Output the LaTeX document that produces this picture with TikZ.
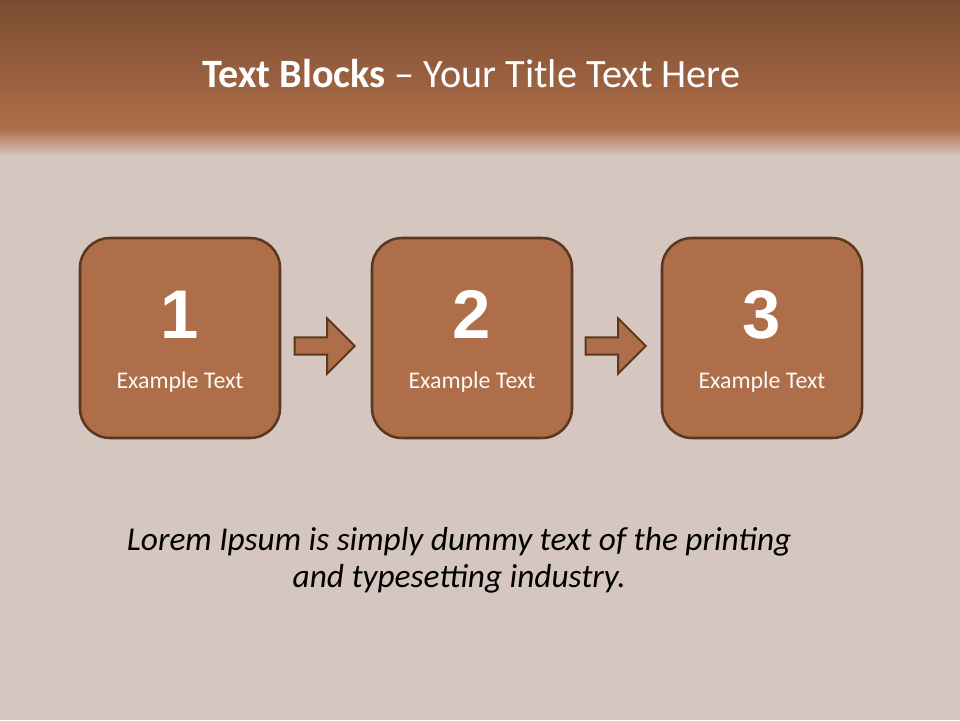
\documentclass[tikz,border=0pt]{standalone}
\usepackage{fontspec}
\setmainfont{Carlito}
\newfontfamily\numfont{Liberation Sans}
\usepackage{xcolor}
\usetikzlibrary{shapes.arrows,positioning,calc}

\definecolor{bandtop}{HTML}{7A4D32}
\definecolor{bandbot}{HTML}{AD6D48}
\definecolor{bgc}{HTML}{D6C6C0}
\definecolor{boxfill}{HTML}{AE6E49}
\definecolor{boxline}{HTML}{5A3820}

\begin{document}
\begin{tikzpicture}[
  blk/.style={draw=boxline, line width=1.8pt, fill=boxfill, rounded corners=0.75cm, minimum width=5cm, minimum height=5cm, inner sep=0pt},
  num/.style={font=\numfont\bfseries\fontsize{49}{53}\selectfont, text=white},
  lbl/.style={font=\fontsize{17}{20}\selectfont, text=white!95!boxfill, anchor=base},
  blockarr/.style={single arrow, draw=boxline, line width=1.4pt, fill=boxfill, minimum width=1.33cm, minimum height=1.5cm, single arrow head extend=0.475cm, inner sep=0.19cm},
]
\useasboundingbox (0,0) rectangle (24,-18);
% background and title band
\fill[bgc] (0,0) rectangle (24,-18);
\fill[top color=bandtop, bottom color=bandbot] (0,0) rectangle (24,-3.2);
\fill[top color=bandbot, bottom color=bgc] (0,-3.2) rectangle (24,-3.9);
\node[font=\fontsize{28.6}{34}\selectfont, text=white, anchor=base] (title) at (11.78,-2.175) {\textbf{Text Blocks} -- Your Title Text Here};

% blocks
\node[blk] (b1) at (4.5,-8.45) {};
\node[blk] (b2) at (11.8,-8.45) {};
\node[blk] (b3) at (19.05,-8.45) {};
\node[num] (n1) at ([yshift=0.58cm]b1.center) {1};
\node[num] (n2) at ([yshift=0.58cm]b2.center) {2};
\node[num] (n3) at ([yshift=0.58cm]b3.center) {3};
\node[lbl] (t1) at ([yshift=-1.27cm]b1.center) {Example Text};
\node[lbl] (t2) at ([yshift=-1.27cm]b2.center) {Example Text};
\node[lbl] (t3) at ([yshift=-1.27cm]b3.center) {Example Text};

% arrows between blocks
\path (b1) -- (b2) node[midway, blockarr, xshift=-0.14cm, yshift=-0.2cm] (a12) {};
\path (b2) -- (b3) node[midway, blockarr, xshift=-0.14cm, yshift=-0.2cm] (a23) {};

\node[font=\itshape\fontsize{23.7}{26.5}\selectfont, align=center] (body) at (11.48,-14.0) {Lorem Ipsum is simply dummy text of the printing\\and typesetting industry.};
\end{tikzpicture}
\end{document}
